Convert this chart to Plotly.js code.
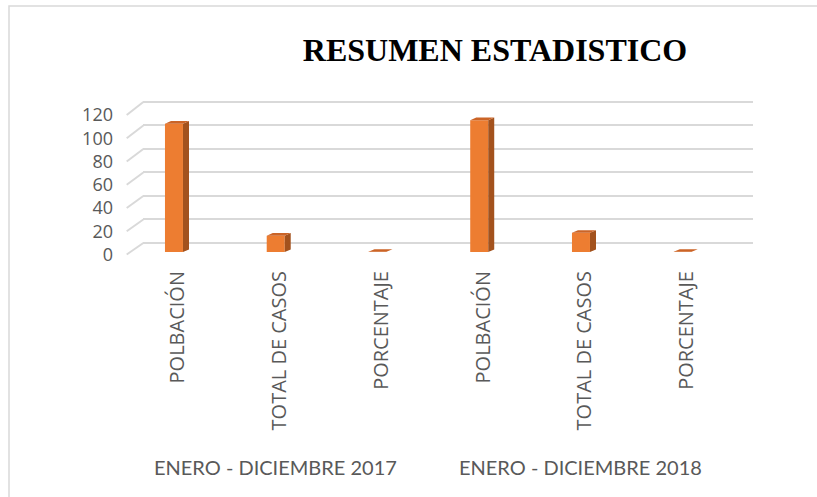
<!DOCTYPE html>
<html>
<head>
<meta charset="utf-8">
<script src="https://cdn.plot.ly/plotly-3.0.1.min.js"></script>
<style>html,body{margin:0;padding:0;background:#fff;}#chart{width:817px;height:497px;}</style>
</head>
<body>
<div id="chart"></div>
<script>
// ---- data ----
var categories = ["POLBACIÓN", "TOTAL DE CASOS", "PORCENTAJE", "POLBACIÓN", "TOTAL DE CASOS", "PORCENTAJE"];
var groupLabels = ["ENERO - DICIEMBRE 2017", "ENERO - DICIEMBRE 2018"];
var values = [110, 14, 0.13, 113, 16.5, 0.14];
var yTicks = [0, 20, 40, 60, 80, 100, 120];

// ---- geometry helpers (pixels of the 817x497 page) ----
var W = 817, H = 497;
function px(x){ return x / W; }
function py(y){ return 1 - y / H; }

var xPos = categories.map(function(c, i){ return i; });
var barW = 0.177;         // category units
var dX = 0.059;           // depth offset in category units
var dY = 2.2;             // depth offset in value units

var sideX = [], sideY = [], topX = [], topY = [];
values.forEach(function(v, i){
  var xl = xPos[i] - barW / 2, xr = xPos[i] + barW / 2;
  sideX.push(xr, xr + dX, xr + dX, xr, xr, null);
  sideY.push(0, dY, v + dY, v, 0, null);
  topX.push(xl, xr, xr + dX, xl + dX, xl, null);
  topY.push(v, v, v + dY, v + dY, v, null);
});

var traces = [
  {x: [], y: [], type: 'scatter', xaxis: 'x', yaxis: 'y', hoverinfo: 'skip', showlegend: false},
  {x: xPos, y: values, type: 'bar', width: barW, xaxis: 'x2', yaxis: 'y2',
   marker: {color: '#ED7D31', line: {width: 0}}, showlegend: false, hoverinfo: 'y'},
  {x: sideX, y: sideY, type: 'scatter', mode: 'lines', fill: 'toself', fillcolor: '#A3521D',
   line: {width: 0, color: '#A3521D'}, xaxis: 'x2', yaxis: 'y2', hoverinfo: 'skip', showlegend: false},
  {x: topX, y: topY, type: 'scatter', mode: 'lines', fill: 'toself', fillcolor: '#CB6427',
   line: {width: 0, color: '#CB6427'}, xaxis: 'x2', yaxis: 'y2', hoverinfo: 'skip', showlegend: false},
  {x: [], y: [], type: 'scatter', xaxis: 'x2', yaxis: 'y3', hoverinfo: 'skip', showlegend: false}
];

var shapes = [];
var frontY0 = 254.5, frontY120 = 115, backY0 = 243, backY120 = 102;
var backScale = (backY0 - backY120) / 120;
yTicks.forEach(function(t){
  var fy = frontY0 + (frontY120 - frontY0) * t / 120;
  var by = backY0 + (backY120 - backY0) * t / 120;
  shapes.push({type: 'line', xref: 'paper', yref: 'paper',
    x0: px(126.7), y0: py(fy), x1: px(143.3), y1: py(by),
    line: {color: '#D9D9D9', width: 2}, layer: 'below'});
});
shapes.push({type: 'path', xref: 'paper', yref: 'paper',
  path: 'M ' + px(9) + ' ' + (-0.05) + ' L ' + px(9) + ' ' + py(6) + ' L ' + 1.05 + ' ' + py(6),
  line: {color: '#D9D9D9', width: 1.5}});

var layout = {
  width: W, height: H,
  margin: {l: 0, r: 0, t: 0, b: 0},
  paper_bgcolor: '#fff', plot_bgcolor: 'rgba(0,0,0,0)',
  showlegend: false,
  title: {text: 'RESUMEN ESTADISTICO', x: px(495), xanchor: 'center', y: py(50), yanchor: 'middle',
    font: {family: '"Liberation Serif", "Times New Roman", serif', size: 32, color: '#000', weight: 'bold'}},
  xaxis: {domain: [px(143.3), px(753)], range: [-0.5, 5.5], showgrid: false, zeroline: false,
    showticklabels: false, showline: false, fixedrange: true},
  yaxis: {domain: [py(backY0 + backScale), py(backY120 - backScale)], range: [-1, 121], tickvals: yTicks, showgrid: true,
    gridcolor: '#D9D9D9', gridwidth: 2, zeroline: false, showticklabels: false, showline: false, fixedrange: true},
  xaxis2: {domain: [px(123.1), px(733.6)], range: [-0.5, 5.5], anchor: 'y2',
    tickvals: xPos, ticktext: categories, tickangle: -90, ticks: '',
    tickfont: {family: '"Open Sans", sans-serif', size: 20, color: '#595959'},
    ticklabelstandoff: 14, ticklabelshift: 4,
    showgrid: false, zeroline: false, showline: false, fixedrange: true},
  yaxis2: {domain: [py(252), py(112)], range: [0, 120], anchor: 'x2', showgrid: false, zeroline: false,
    showticklabels: false, showline: false, fixedrange: true},
  yaxis3: {domain: [py(frontY0), py(frontY120)], range: [0, 120], anchor: 'free', position: px(113),
    tickvals: yTicks, ticks: '', showgrid: false, zeroline: false, showline: false,
    tickfont: {family: '"Open Sans", sans-serif', size: 18, color: '#595959'}, fixedrange: true},
  annotations: groupLabels.map(function(g, i){
    return {text: g, xref: 'x2', x: 1 + 3 * i, yref: 'paper', y: py(467), xanchor: 'center', yanchor: 'middle',
      showarrow: false, font: {family: 'Lato, "Open Sans", sans-serif', size: 20, color: '#595959'}};
  }),
  shapes: shapes
};

Plotly.newPlot('chart', traces, layout, {displayModeBar: false, staticPlot: true});
</script>
</body>
</html>
